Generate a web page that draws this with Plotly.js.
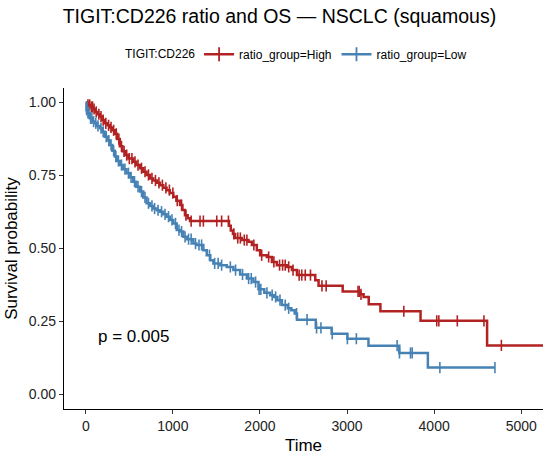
<!DOCTYPE html>
<html>
<head>
<meta charset="utf-8">
<script src="https://cdn.plot.ly/plotly-3.0.1.min.js"></script>
<style>html,body{margin:0;padding:0;background:#fff;}#chart{width:550px;height:455px;}</style>
</head>
<body>
<div id="chart"></div>
<script>
// Kaplan-Meier step curves (time, survival after the step)
var highTimes = [0,20,50,84,110,140,161,190,219,250,276,300,334,360,391,420,449,490,545,580,621,660,698,737,775,815,852,890,928,965,1005,1040,1082,1110,1139,1170,1197,1645,1665,1690,1715,1792,1868,1907,1964,2002,2079,2137,2194,2309,2367,2425,2635,2673,2950,3150,3190,3249,3383,3844,4608,5400];
var highSurv  = [1.0,0.992,0.985,0.978,0.968,0.96,0.952,0.94,0.929,0.922,0.915,0.905,0.893,0.875,0.85,0.833,0.82,0.808,0.797,0.786,0.775,0.763,0.752,0.74,0.733,0.725,0.717,0.708,0.70,0.69,0.677,0.664,0.649,0.632,0.614,0.604,0.594,0.578,0.562,0.55,0.536,0.529,0.523,0.512,0.494,0.477,0.471,0.454,0.443,0.437,0.426,0.409,0.391,0.372,0.353,0.343,0.334,0.309,0.285,0.252,0.168,0.168];
var highCensor = [25,45,65,78,95,120,150,175,200,230,262,290,320,350,380,410,440,470,500,530,565,600,640,680,720,760,800,840,880,920,960,1000,1050,1100,1150,1210,1312,1350,1504,1560,1638,1700,1745,1775,1820,1850,1930,2020,2100,2160,2225,2260,2290,2330,2380,2450,2480,2520,2580,2712,2760,3126,3140,3160,3652,4030,4054,4266,4572,4772];

var lowTimes = [0,8,15,46,80,104,130,161,190,219,250,276,305,334,360,391,430,468,505,545,580,621,660,698,737,775,815,852,890,928,965,1005,1044,1082,1120,1159,1235,1270,1350,1389,1430,1465,1542,1619,1695,1772,1849,1925,1983,2050,2117,2158,2200,2252,2319,2360,2399,2425,2641,2823,3004,3246,3600,3928,4698];
var lowSurv  = [1.0,0.975,0.965,0.946,0.935,0.929,0.92,0.912,0.9,0.883,0.87,0.855,0.835,0.815,0.8,0.786,0.772,0.758,0.744,0.729,0.712,0.695,0.675,0.655,0.646,0.637,0.631,0.626,0.617,0.609,0.598,0.586,0.563,0.558,0.54,0.532,0.517,0.512,0.494,0.477,0.46,0.449,0.443,0.437,0.426,0.411,0.397,0.385,0.36,0.348,0.34,0.334,0.323,0.306,0.295,0.288,0.277,0.256,0.228,0.208,0.191,0.167,0.142,0.092,0.092];
var lowCensor = [10,25,35,55,70,90,115,140,175,200,235,265,290,320,345,375,410,450,490,520,560,600,640,680,720,760,790,830,870,910,950,990,1030,1070,1100,1140,1180,1210,1260,1300,1330,1420,1480,1520,1560,1660,1720,1800,1870,1900,1950,1990,2010,2080,2140,2180,2230,2290,2330,2420,2541,2650,2700,2830,3004,3107,3575,3602,3728,3748,4066,4698];

var groupNames = ['ratio_group=High','ratio_group=Low'];
var groupColors = ['#B22222','#4682B4'];
var legendTitle = 'TIGIT:CD226';
var pText = 'p = 0.005';

function survAt(times, surv, t){
  var s = surv[0];
  for (var i=0;i<times.length;i++){ if (times[i] <= t) s = surv[i]; else break; }
  return s;
}

var groups = [
  {t: highTimes, s: highSurv, c: highCensor},
  {t: lowTimes, s: lowSurv, c: lowCensor}
];
var traces = [];
groups.forEach(function(g, k){
  traces.push({x: g.t, y: g.s, type:'scatter', mode:'lines', line:{shape:'hv', color: groupColors[k], width:2.5}, showlegend:false, hoverinfo:'skip'});
  traces.push({x: g.c, y: g.c.map(function(t){return survAt(g.t, g.s, t);}), type:'scatter', mode:'markers',
    marker:{symbol:'line-ns-open', size:8, color: groupColors[k], line:{color: groupColors[k], width:1.6}}, showlegend:false, hoverinfo:'skip', cliponaxis:false});
  traces.push({x:[null], y:[null], type:'scatter', mode:'lines+markers', name: groupNames[k],
    line:{color: groupColors[k], width:2.5}, marker:{symbol:'line-ns-open', size:10, color: groupColors[k], line:{color: groupColors[k], width:1.8}}});
});

var plotW = 550 - 64 - 7, plotH = 455 - 88 - 46;
var layout = {
  width:550, height:455,
  paper_bgcolor:'#fff', plot_bgcolor:'#fff',
  font:{family:'Liberation Sans, Arial, sans-serif', color:'#000'},
  margin:{l:64, r:7, t:88, b:46, pad:0},
  title:{text:'TIGIT:CD226 ratio and OS \u2014 NSCLC (squamous)', font:{size:19.5, color:'#000'}, x:0.508, xanchor:'center', xref:'container', y:0.965, yanchor:'middle', yref:'container'},
  showlegend:true,
  legend:{orientation:'h', x:0.282, xanchor:'left', y:1.105, yanchor:'middle', font:{size:12, color:'#000'},
    itemwidth:30, tracegroupgap:0, bgcolor:'rgba(0,0,0,0)'},
  xaxis:{range:[-250,5250], tickvals:[0,1000,2000,3000,4000,5000], ticktext:['0','1000','2000','3000','4000','5000'],
    showgrid:false, zeroline:false, showline:true, linecolor:'#000', linewidth:1.2, ticks:'outside', ticklen:4, tickcolor:'#333',
    tickfont:{size:14, color:'#222'}, title:{text:'Time', font:{size:17, color:'#000'}, standoff:6}},
  yaxis:{range:[-0.05,1.05], tickvals:[0,0.25,0.5,0.75,1], ticktext:['0.00','0.25','0.50','0.75','1.00'],
    showgrid:false, zeroline:false, showline:true, linecolor:'#000', linewidth:1.2, ticks:'outside', ticklen:4, tickcolor:'#333',
    tickfont:{size:14, color:'#222'}, title:{text:'Survival probability', font:{size:17, color:'#000'}, standoff:6}},
  annotations:[
    {x:115, y:0.197, xref:'x', yref:'y', text:pText, showarrow:false, xanchor:'left', yanchor:'middle', font:{size:17, color:'#000'}},
    {x:(123 - 64) / plotW, y:(455 - 46 - 54) / plotH, xref:'paper', yref:'paper', text:legendTitle, showarrow:false, xanchor:'left', yanchor:'middle', font:{size:12, color:'#000'}}
  ]
};

Plotly.newPlot('chart', traces, layout, {staticPlot:true, displayModeBar:false});
</script>
</body>
</html>
